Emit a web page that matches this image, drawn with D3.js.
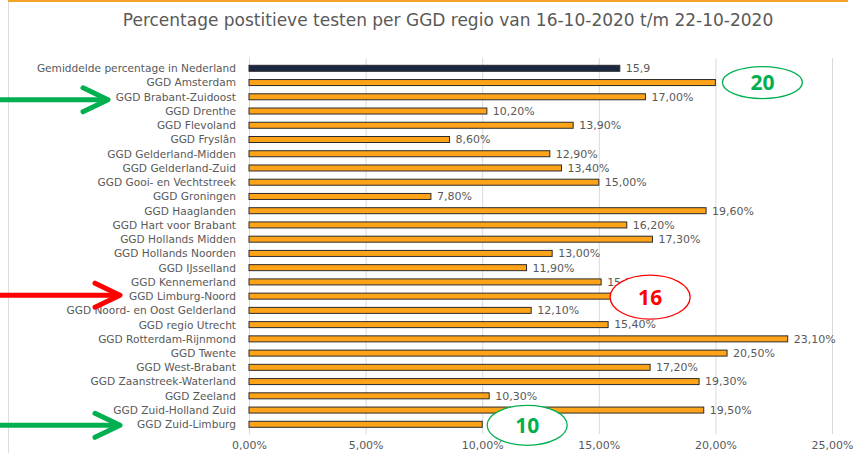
<!DOCTYPE html>
<html>
<head>
<meta charset="utf-8">
<script src="https://cdn.jsdelivr.net/npm/d3@7"></script>
<style>
  body { margin: 0; background: #fff; }
  svg { display: block; font-family: "DejaVu Sans", Verdana, sans-serif; }
</style>
</head>
<body>
<div id="chart"></div>
<script>
// Percentage positieve testen per GGD regio
const regions = [
    'Gemiddelde percentage in Nederland',
    'GGD Amsterdam',
    'GGD Brabant-Zuidoost',
    'GGD Drenthe',
    'GGD Flevoland',
    'GGD Fryslân',
    'GGD Gelderland-Midden',
    'GGD Gelderland-Zuid',
    'GGD Gooi- en Vechtstreek',
    'GGD Groningen',
    'GGD Haaglanden',
    'GGD Hart voor Brabant',
    'GGD Hollands Midden',
    'GGD Hollands Noorden',
    'GGD IJsselland',
    'GGD Kennemerland',
    'GGD Limburg-Noord',
    'GGD Noord- en Oost Gelderland',
    'GGD regio Utrecht',
    'GGD Rotterdam-Rijnmond',
    'GGD Twente',
    'GGD West-Brabant',
    'GGD Zaanstreek-Waterland',
    'GGD Zeeland',
    'GGD Zuid-Holland Zuid',
    'GGD Zuid-Limburg'
];
const values = [15.9, 20.0, 17.0, 10.2, 13.9, 8.6, 12.9, 13.4, 15.0, 7.8, 19.6, 16.2, 17.3,
    13.0, 11.9, 15.1, 16.0, 12.1, 15.4, 23.1, 20.5, 17.2, 19.3, 10.3, 19.5, 10.0];
const xTicks = [0, 5, 10, 15, 20, 25];

// annotations: circled number next to a bar, arrows pointing at the label
const callouts = [
    { region: 'GGD Amsterdam', text: '20', color: '#00b050', dx: 47, dy: 0, rx: 40, ry: 16 },
    { region: 'GGD Limburg-Noord', text: '16', color: '#ff0000', dx: 28, dy: 1, rx: 40, ry: 22 },
    { region: 'GGD Zuid-Limburg', text: '10', color: '#00b050', dx: 45, dy: 1, rx: 40, ry: 20 }
];
const arrows = [
    { region: 'GGD Brabant-Zuidoost', color: '#00b050', tip: 110, dy: 3 },
    { region: 'GGD Limburg-Noord', color: '#ff0000', tip: 122, dy: -1 },
    { region: 'GGD Zuid-Limburg', color: '#00b050', tip: 122, dy: 1 }
];

const width = 854, height = 453;
const nl = d3.formatLocale({ decimal: ',', thousands: '.', grouping: [3], currency: ['€', ''] });
const fmtPct = v => nl.format('.2f')(v) + '%';
const fmtAvg = nl.format('.1f');

const svg = d3.select('#chart').append('svg')
    .attr('width', width)
    .attr('height', height);

// frame
svg.append('line').attr('x1', 8).attr('x2', 848).attr('y1', 1).attr('y2', 1)
    .attr('stroke', '#f4a32a').attr('stroke-width', 2);
svg.append('line').attr('x1', 8.5).attr('x2', 8.5).attr('y1', 2).attr('y2', height)
    .attr('stroke', '#dcdcdc');

// title
svg.append('text')
    .attr('x', 448).attr('y', 26)
    .attr('text-anchor', 'middle')
    .attr('font-size', '17px')
    .attr('fill', '#595959')
    .text('Percentage postitieve testen per GGD regio van 16-10-2020 t/m 22-10-2020');

const x = d3.scaleLinear().domain([0, 25]).range([249, 832]);
const y = d3.scalePoint().domain(regions).range([68.3, 424.3]);
const barH = 6;

// gridlines
svg.append('g')
    .selectAll('line')
    .data(xTicks)
    .enter()
    .append('line')
    .attr('x1', d => x(d) + 0.5).attr('x2', d => x(d) + 0.5)
    .attr('y1', 58).attr('y2', 434)
    .attr('stroke', '#d9d9d9');

// x axis labels
const xAxis = svg.append('g')
    .attr('transform', `translate(0, 434)`)
    .call(d3.axisBottom(x).tickValues(xTicks).tickSize(0).tickPadding(7).tickFormat(fmtPct));
xAxis.select('.domain').remove();
xAxis.selectAll('text')
    .attr('font-family', '"DejaVu Sans", Verdana, sans-serif')
    .attr('font-size', '11px')
    .attr('fill', '#595959');

// category labels
const yAxis = svg.append('g')
    .attr('transform', `translate(236, 0)`)
    .call(d3.axisLeft(y).tickSize(0).tickPadding(0));
yAxis.select('.domain').remove();
yAxis.selectAll('text')
    .attr('font-family', '"DejaVu Sans", Verdana, sans-serif')
    .attr('font-size', '10.6px')
    .attr('fill', '#595959');

const data = regions.map((r, i) => ({ region: r, value: values[i], avg: i === 0 }));
const covered = callouts.map(c => c.region);

// bars
svg.append('g')
    .selectAll('rect')
    .data(data)
    .enter()
    .append('rect')
    .attr('x', x(0))
    .attr('y', d => y(d.region) - barH / 2)
    .attr('width', d => x(d.value) - x(0))
    .attr('height', barH)
    .attr('fill', d => d.avg ? '#1c2841' : '#ffa318')
    .attr('stroke', '#2b2b2b')
    .attr('stroke-width', 1);

// value labels (the ones under a circled number are hidden in the original)
svg.append('g')
    .selectAll('text')
    .data(data.filter(d => !covered.includes(d.region)))
    .enter()
    .append('text')
    .attr('x', d => x(d.value) + 6)
    .attr('y', d => y(d.region))
    .attr('dy', '0.35em')
    .attr('font-size', '11px')
    .attr('fill', '#595959')
    .text(d => d.avg ? fmtAvg(d.value) : fmtPct(d.value));

// circled numbers
const valueOf = r => values[regions.indexOf(r)];
const call = svg.append('g')
    .selectAll('g')
    .data(callouts)
    .enter()
    .append('g')
    .attr('transform', d => `translate(${x(valueOf(d.region)) + d.dx}, ${y(d.region) + d.dy})`);
call.append('ellipse')
    .attr('rx', d => d.rx).attr('ry', d => d.ry)
    .attr('fill', '#fff')
    .attr('stroke', d => d.color)
    .attr('stroke-width', 1.3);
call.append('text')
    .attr('text-anchor', 'middle')
    .attr('dy', '0.36em')
    .attr('font-family', '"Open Sans", "DejaVu Sans", sans-serif')
    .attr('font-weight', 'bold')
    .attr('font-size', '21px')
    .attr('fill', d => d.color)
    .text(d => d.text);

// arrows
const arr = svg.append('g')
    .selectAll('g')
    .data(arrows)
    .enter()
    .append('g')
    .attr('transform', d => `translate(${d.tip}, ${y(d.region) + d.dy})`);
arr.append('line')
    .attr('x1', d => -d.tip - 2).attr('x2', -4)
    .attr('y1', 0).attr('y2', 0)
    .attr('stroke', d => d.color)
    .attr('stroke-width', 5);
arr.append('path')
    .attr('d', 'M-27,-12 L-2,0 L-27,12')
    .attr('fill', 'none')
    .attr('stroke', d => d.color)
    .attr('stroke-width', 5)
    .attr('stroke-linecap', 'round')
    .attr('stroke-linejoin', 'round');
</script>
</body>
</html>
